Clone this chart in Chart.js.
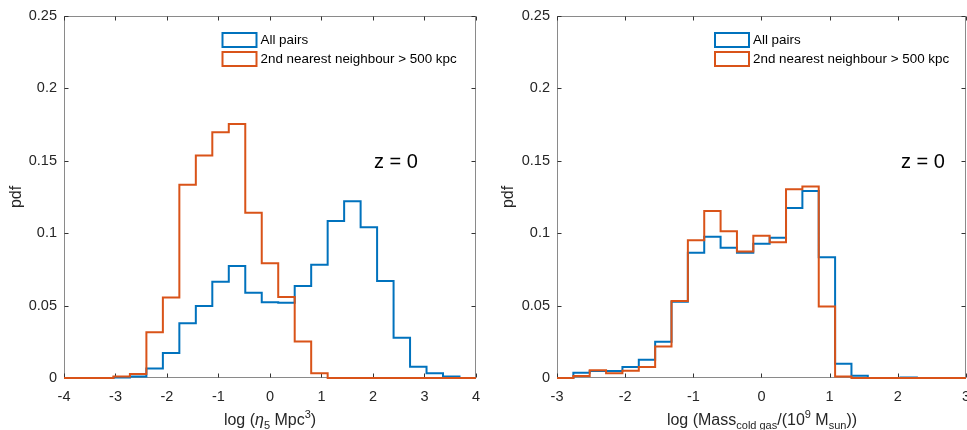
<!DOCTYPE html>
<html>
<head>
<meta charset="utf-8">
<script src="https://cdn.jsdelivr.net/npm/chart.js@4/dist/chart.umd.min.js"></script>
<style>
  html, body { margin: 0; padding: 0; background: #fff; width: 967px; height: 430px; overflow: hidden; position: relative; }
  canvas { position: absolute; top: 0; }
  #left { left: 0; }
  #right { left: 490px; }
</style>
</head>
<body>
<canvas id="left" width="490" height="430"></canvas>
<canvas id="right" width="490" height="430"></canvas>
<script>
// ---------- data ----------
const seriesNames = ['All pairs', '2nd nearest neighbour > 500 kpc'];

// left panel: log(eta_5 Mpc^3), 25 bins
const leftEdges = [-4, -3.68, -3.36, -3.04, -2.72, -2.4, -2.08, -1.76, -1.44, -1.12, -0.8, -0.48, -0.16,
                   0.16, 0.48, 0.8, 1.12, 1.44, 1.76, 2.08, 2.4, 2.72, 3.04, 3.36, 3.68, 4];
const leftAllPairs = [0, 0, 0, 0.0003, 0.001, 0.0066, 0.0172, 0.0378, 0.0497, 0.0665, 0.0772, 0.0589, 0.0522,
                      0.0520, 0.0635, 0.0781, 0.1084, 0.1219, 0.104, 0.0669, 0.0277, 0.0078, 0.0032, 0.001, 0];
const leftNeighbour = [0, 0, 0, 0.001, 0.0027, 0.0316, 0.0555, 0.1334, 0.1535, 0.1696, 0.1753, 0.1141, 0.0791,
                       0.0559, 0.0252, 0.0032, 0, 0, 0, 0, 0, 0, 0, 0, 0];
const leftXTicks = [-4, -3, -2, -1, 0, 1, 2, 3, 4];

// right panel: log(Mass_cold gas / 1e9 Msun), 25 bins
const rightEdges = [-3, -2.76, -2.52, -2.28, -2.04, -1.8, -1.56, -1.32, -1.08, -0.84, -0.6, -0.36, -0.12,
                    0.12, 0.36, 0.6, 0.84, 1.08, 1.32, 1.56, 1.8, 2.04, 2.28, 2.52, 2.76, 3];
const rightAllPairs = [0, 0.0037, 0.0048, 0.0048, 0.0076, 0.0126, 0.025, 0.0527, 0.0864, 0.0974, 0.0898, 0.0864, 0.0926,
                       0.0967, 0.1173, 0.129, 0.0834, 0.0099, 0.0016, 0, 0, 0.0004, 0, 0, 0];
const rightNeighbour = [0, 0.0014, 0.0053, 0.0032, 0.005, 0.0076, 0.0218, 0.0532, 0.0951, 0.1153, 0.1013, 0.0873, 0.0981,
                        0.0937, 0.1302, 0.1322, 0.0493, 0.001, 0, 0, 0, 0, 0, 0, 0];
const rightXTicks = [-3, -2, -1, 0, 1, 2, 3];

const yTickValues = [0, 0.05, 0.1, 0.15, 0.2, 0.25];
const yTickLabels = ['0', '0.05', '0.1', '0.15', '0.2', '0.25'];

// ---------- style ----------
const FONT = '"Liberation Sans", Arial, Helvetica, sans-serif';
const BLUE = '#0072BD';
const ORANGE = '#D95319';
const TEXT = '#262626';

// point i sits at the right edge of bin i-1 and carries that bin's value (first point at the left edge, 0)
function stairs(edges, vals) {
  return edges.map((e, i) => ({ x: e, y: i === 0 ? 0 : vals[i - 1] }));
}

function richText(ctx, segs, cx, baseline) {
  let w = 0;
  segs.forEach(s => { ctx.font = s.font; s.w = ctx.measureText(s.t).width; w += s.w; });
  let x = cx - w / 2;
  ctx.textBaseline = 'alphabetic';
  ctx.textAlign = 'left';
  segs.forEach(s => { ctx.font = s.font; ctx.fillText(s.t, x, baseline + (s.dy || 0)); x += s.w; });
}

const decor = {
  id: 'decor',
  beforeDatasetsDraw(chart, args, o) {
    const { ctx, chartArea: a, scales: { x, y } } = chart;
    ctx.save();
    ctx.strokeStyle = '#8a8a8a';
    ctx.lineWidth = 1;
    const L = Math.round(a.left) + 0.5, R = Math.round(a.right) - 0.5;
    const T = Math.round(a.top) + 0.5, B = Math.round(a.bottom) - 0.5;
    ctx.strokeRect(L, T, R - L, B - T);
    ctx.strokeStyle = '#333';
    ctx.beginPath();
    o.xTicks.forEach(v => {
      const px = Math.round(x.getPixelForValue(v)) + 0.5;
      ctx.moveTo(px, B); ctx.lineTo(px, B - 4);
      ctx.moveTo(px, T); ctx.lineTo(px, T + 4);
    });
    yTickValues.forEach(v => {
      const py = Math.round(y.getPixelForValue(v)) + 0.5;
      ctx.moveTo(L, py); ctx.lineTo(L + 4, py);
      ctx.moveTo(R, py); ctx.lineTo(R - 4, py);
    });
    ctx.stroke();
    ctx.restore();
  },
  afterDraw(chart, args, o) {
    const { ctx, chartArea: a } = chart;
    ctx.save();
    // legend
    const lx = a.left + o.legendDx;
    [[BLUE, 33, seriesNames[0]], [ORANGE, 52, seriesNames[1]]].forEach(([c, ty, label]) => {
      ctx.strokeStyle = c; ctx.lineWidth = 2;
      ctx.strokeRect(lx, ty, 34, 14);
      ctx.fillStyle = '#000';
      ctx.font = '13.4px ' + FONT;
      ctx.textAlign = 'left'; ctx.textBaseline = 'middle';
      ctx.fillText(label, lx + 38, ty + 7.5);
    });
    // z = 0
    ctx.fillStyle = '#000';
    ctx.font = '20px ' + FONT;
    ctx.textAlign = 'center'; ctx.textBaseline = 'middle';
    ctx.fillText('z = 0', o.zX, 162);
    // y title
    ctx.save();
    ctx.translate(o.pdfX, 197);
    ctx.rotate(-Math.PI / 2);
    ctx.fillStyle = TEXT;
    ctx.font = '16px ' + FONT;
    ctx.textAlign = 'center'; ctx.textBaseline = 'middle';
    ctx.fillText('pdf', 0, 0);
    ctx.restore();
    // x title
    ctx.fillStyle = TEXT;
    richText(ctx, o.xTitle, o.titleX, 425);
    ctx.restore();
  }
};

function makeChart(id, edges, allPairs, neighbour, xmin, xmax, xTicks, opts) {
  const el = document.getElementById(id);
  return new Chart(el, {
    type: 'line',
    data: {
      datasets: [
        { label: seriesNames[1], data: stairs(edges, neighbour), borderColor: ORANGE, borderWidth: 2,
          stepped: 'after', pointRadius: 0, fill: false, order: 0, clip: false },
        { label: seriesNames[0], data: stairs(edges, allPairs), borderColor: BLUE, borderWidth: 2,
          stepped: 'after', pointRadius: 0, fill: false, order: 1, clip: false }
      ]
    },
    options: {
      responsive: false,
      animation: false,
      devicePixelRatio: 1,
      layout: { padding: { left: 0, top: 14, right: opts.padRight, bottom: 0 } },
      plugins: { legend: { display: false }, tooltip: { enabled: false }, decor: opts },
      scales: {
        x: {
          type: 'linear', min: xmin, max: xmax,
          afterBuildTicks: s => { s.ticks = xTicks.map(v => ({ value: v })); },
          afterFit: s => { s.height = 52; },
          grid: { display: false, drawTicks: false },
          border: { display: false },
          ticks: { padding: 10, color: TEXT, font: { family: FONT, size: 14.5 }, maxRotation: 0, autoSkip: false,
                   callback: v => String(v) }
        },
        y: {
          type: 'linear', min: 0, max: 0.25,
          afterBuildTicks: s => { s.ticks = yTickValues.map(v => ({ value: v })); },
          afterFit: s => { s.width = opts.yWidth; },
          grid: { display: false, drawTicks: false },
          border: { display: false },
          ticks: { padding: 7, color: TEXT, font: { family: FONT, size: 14.5 },
                   callback: v => yTickLabels[yTickValues.indexOf(v)] ?? '' }
        }
      }
    },
    plugins: [decor]
  });
}

const big = '16px ' + FONT, small = '11px ' + FONT, ital = 'italic 16px ' + FONT;

makeChart('left', leftEdges, leftAllPairs, leftNeighbour, -4, 4, leftXTicks, {
  padRight: 13, yWidth: 64, xTicks: leftXTicks, legendDx: 158.5, zX: 396, pdfX: 17, titleX: 270,
  xTitle: [
    { t: 'log (', font: big }, { t: 'η', font: ital }, { t: '5', font: small, dy: 4 },
    { t: ' Mpc', font: big }, { t: '3', font: small, dy: -7 }, { t: ')', font: big }
  ]
});

makeChart('right', rightEdges, rightAllPairs, rightNeighbour, -3, 3, rightXTicks, {
  padRight: 12, yWidth: 67, xTicks: rightXTicks, legendDx: 158, zX: 923 - 490, pdfX: 509 - 490, titleX: 762 - 490,
  xTitle: [
    { t: 'log (Mass', font: big }, { t: 'cold gas', font: small, dy: 4 },
    { t: '/(10', font: big }, { t: '9', font: small, dy: -7 },
    { t: ' M', font: big }, { t: 'sun', font: small, dy: 4 }, { t: '))', font: big }
  ]
});
</script>
</body>
</html>
